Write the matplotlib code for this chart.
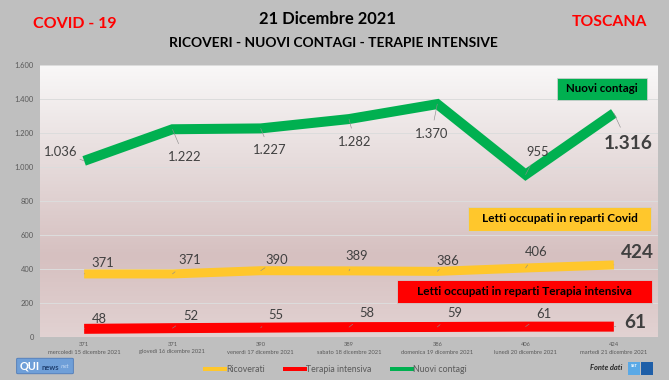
import matplotlib.pyplot as plt
import numpy as np
from matplotlib.colors import LinearSegmentedColormap
from matplotlib.patches import FancyBboxPatch, Rectangle
from matplotlib.lines import Line2D

plt.rcParams['font.family'] = ['Lato', 'DejaVu Sans']

# dati
giorni = ['mercoledì 15 dicembre 2021', 'giovedì 16 dicembre 2021', 'venerdì 17 dicembre 2021',
          'sabato 18 dicembre 2021', 'domenica 19 dicembre 2021', 'lunedì 20 dicembre 2021',
          'martedì 21 dicembre 2021']
ricoverati = [371, 371, 390, 389, 386, 406, 424]
terapia = [48, 52, 55, 58, 59, 61, 61]
contagi = [1036, 1222, 1227, 1282, 1370, 955, 1316]
yticks = [0, 200, 400, 600, 800, 1000, 1200, 1400, 1600]

# offset etichette (in punti = pixel a 72 dpi)
off_contagi = [(-23, 9), (12, -28), (9, -22), (6, -23), (-6, -30), (12, 23), (14, -30)]
off_ricov = [(19, 11), (17, 14), (16, 11), (8, 15), (10, 10), (11, 16), (24, 12)]
off_ter = [(15, 10), (18, 12), (15, 13), (18, 14), (17, 14), (18, 13), (21, 4)]


def fmt(v):
    return f"{v:,}".replace(',', '.')


W, H = 669, 380
fig = plt.figure(figsize=(W / 72, H / 72), dpi=72)
fig.patch.set_facecolor('#bfbfbf')

# area grafico in pixel
L, R, T, B = 40, 658, 65, 337
ax = fig.add_axes([L / W, 1 - B / H, (R - L) / W, (B - T) / H])
ax.set_xlim(-0.5, 6.5)
ax.set_ylim(0, 1600)

# sfondo sfumato
cmap = LinearSegmentedColormap.from_list('bg', [(0, '#e2d2d2'), (0.3, '#d6c0c0'), (0.6, '#e4d8d8'), (1, '#f9f8f8')])
grad = np.linspace(0, 1, 256).reshape(-1, 1)
ax.imshow(grad, extent=[-0.5, 6.5, 0, 1600], aspect='auto', origin='lower', cmap=cmap, zorder=0)

for s in ax.spines.values():
    s.set_visible(False)
ax.set_yticks(yticks)
ax.set_yticklabels([fmt(v) for v in yticks], fontsize=7.5, color='#595959')
ax.tick_params(axis='y', length=0, pad=6)
ax.set_xticks([])
for y in yticks[1:]:
    ax.axhline(y, color='#dcdcdc', lw=1, zorder=1)

x = np.arange(len(giorni))
ax.plot(x, contagi, color='#00b050', lw=10, solid_capstyle='butt', solid_joinstyle='miter', zorder=3)
ax.plot(x, ricoverati, color='#ffc72c', lw=9, solid_capstyle='butt', zorder=3)
ax.plot(x, terapia, color='#ff0000', lw=10, solid_capstyle='butt', zorder=3)


def etichette(vals, offs):
    for i, v in enumerate(vals):
        last = i == len(vals) - 1
        ax.annotate(fmt(v), (x[i], v), xytext=offs[i], textcoords='offset points',
                    ha='center', va='center', fontsize=19 if last else 13,
                    fontweight='bold' if last else 'normal', color='#404040', zorder=5,
                    arrowprops=dict(arrowstyle='-', color='#8c8c8c', lw=0.6, shrinkA=6, shrinkB=0))


etichette(contagi, off_contagi)
etichette(ricoverati, off_ricov)
etichette(terapia, off_ter)


# riquadri
def box(x0, y0, x1, y1, testo, col, fs):
    fig.add_artist(Rectangle((x0 / W, 1 - y1 / H), (x1 - x0) / W, (y1 - y0) / H,
                             transform=fig.transFigure, facecolor=col, edgecolor='#cfcfcf', lw=0.8, zorder=6))
    fig.text((x0 + x1) / 2 / W, 1 - (y0 + y1) / 2 / H, testo, ha='center', va='center',
             fontsize=fs, fontweight='bold', color='black', zorder=7)


box(557, 78, 647, 100, 'Nuovi contagi', '#00b050', 11.5)
box(468, 207, 651, 231, 'Letti occupati in reparti Covid', '#ffc72c', 11.8)
box(397, 280, 652, 303, 'Letti occupati in reparti Terapia intensiva', '#ff0000', 11.8)

# etichette categorie
for i, g in enumerate(giorni):
    xf = (L + (R - L) * (i + 0.5) / len(giorni)) / W
    fig.text(xf, 1 - 344 / H, str(ricoverati[i]), ha='center', va='center', fontsize=5.8, color='#595959')
    fig.text(xf, 1 - 352 / H, g, ha='center', va='center', fontsize=5.8, color='#595959')

# titoli
fig.text(75 / W, 1 - 24 / H, 'COVID - 19', ha='center', va='center', fontsize=16, fontweight='bold', color='#ff0000')
fig.text(609 / W, 1 - 22 / H, 'TOSCANA', ha='center', va='center', fontsize=15.8, fontweight='bold', color='#ff0000')
fig.text(327 / W, 1 - 19 / H, '21 Dicembre 2021', ha='center', va='center', fontsize=16.5, fontweight='bold', color='black')
fig.text(333 / W, 1 - 43 / H, 'RICOVERI - NUOVI CONTAGI - TERAPIE INTENSIVE', ha='center', va='center',
         fontsize=13.8, fontweight='bold', color='black')

# legenda
handles = [Line2D([], [], color='#ffc72c', lw=4), Line2D([], [], color='#ff0000', lw=4),
           Line2D([], [], color='#00b050', lw=4)]
fig.legend(handles, ['Ricoverati', 'Terapia intensiva', 'Nuovi contagi'], loc='center',
           bbox_to_anchor=(336 / W, 1 - 370 / H), ncol=3, frameon=False, fontsize=8.8,
           handlelength=2.3, handletextpad=0.1, columnspacing=2.3, labelcolor='#595959')

# logo QUInews
fig.add_artist(FancyBboxPatch((18 / W, 1 - 373 / H), 54 / W, 14 / H, boxstyle='round,pad=0.002',
                              transform=fig.transFigure, facecolor='#6f9fd8', edgecolor='#4a78b8', lw=0.8))
fig.text(20 / W, 1 - 366 / H, 'QUI', ha='left', va='center', fontsize=11, fontweight='bold', color='white')
fig.text(42 / W, 1 - 367 / H, 'news', ha='left', va='center', fontsize=7.5, fontweight='bold', color='#1f3f70')
fig.text(61 / W, 1 - 367 / H, '.net', ha='left', va='center', fontsize=5.5, style='italic', color='#c8dcf5')

# fonte dati
fig.text(606 / W, 1 - 367 / H, 'Fonte dati', ha='center', va='center', fontsize=7.5, style='italic',
         fontweight='bold', color='#262626')
fig.add_artist(Rectangle((628 / W, 1 - 375 / H), 12 / W, 13 / H, transform=fig.transFigure,
                         facecolor='#5aa9e6', edgecolor='none'))
fig.add_artist(Rectangle((641 / W, 1 - 375 / H), 12 / W, 13 / H, transform=fig.transFigure,
                         facecolor='#1f5fa8', edgecolor='none'))
fig.text(634 / W, 1 - 366 / H, 'SST', ha='center', va='center', fontsize=4, fontweight='bold', color='white')

fig.savefig('out.png', dpi=72, facecolor=fig.get_facecolor())
